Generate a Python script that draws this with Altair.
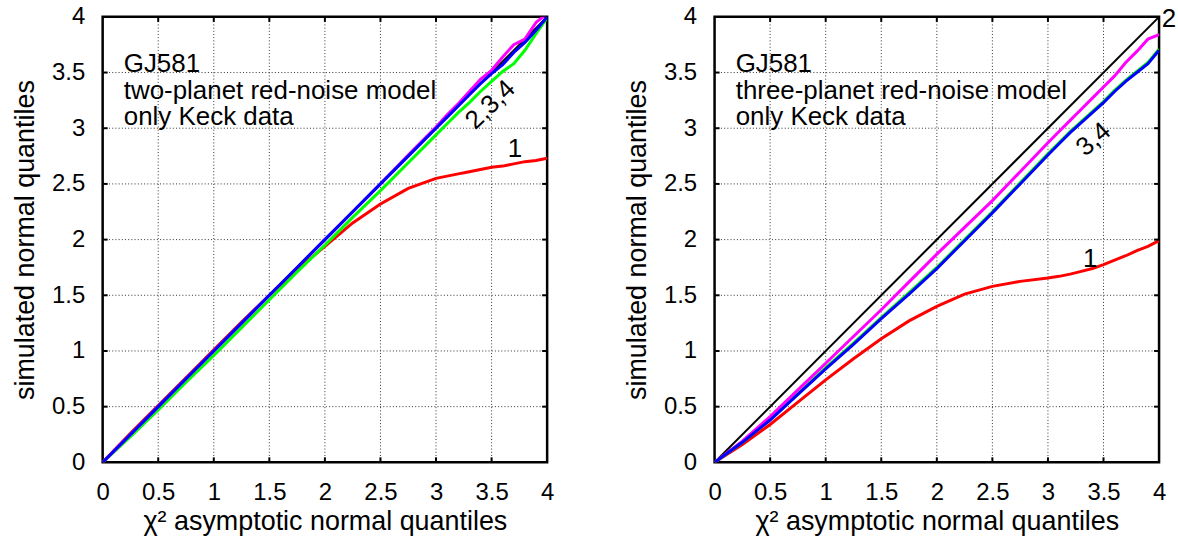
import altair as alt
import pandas as pd

FONT = "Liberation Sans"

# shared chi^2 asymptotic quantile grid (x)
x_q = [0, 0.25, 0.5, 0.75, 1.0, 1.25, 1.5, 1.75, 2.0, 2.25, 2.5, 2.75,
       3.0, 3.1, 3.2, 3.3, 3.4, 3.5, 3.6, 3.7, 3.8, 3.9, 4.0]

# left panel: two-planet red-noise model
left_1 = [0, 0.26, 0.51, 0.76, 1.01, 1.26, 1.50, 1.73, 1.94, 2.15, 2.32, 2.46,
          2.55, 2.57, 2.59, 2.61, 2.63, 2.65, 2.66, 2.68, 2.70, 2.71, 2.73]
left_2 = [0, 0.23, 0.47, 0.72, 0.96, 1.21, 1.46, 1.71, 1.95, 2.20, 2.44, 2.69,
          2.94, 3.04, 3.14, 3.23, 3.33, 3.42, 3.51, 3.58, 3.70, 3.85, 3.99]
left_3 = [0, 0.25, 0.50, 0.75, 1.00, 1.25, 1.50, 1.75, 2.00, 2.25, 2.50, 2.75,
          3.00, 3.10, 3.20, 3.30, 3.40, 3.49, 3.57, 3.68, 3.77, 3.88, 4.00]
left_4 = [0, 0.25, 0.50, 0.75, 1.00, 1.25, 1.50, 1.75, 2.00, 2.25, 2.50, 2.76,
          3.01, 3.12, 3.22, 3.33, 3.44, 3.52, 3.64, 3.75, 3.80, 3.95, 4.03]

# right panel: three-planet red-noise model
right_1 = [0, 0.16, 0.34, 0.54, 0.74, 0.93, 1.11, 1.27, 1.40, 1.51, 1.58, 1.625,
           1.655, 1.67, 1.69, 1.715, 1.74, 1.775, 1.815, 1.855, 1.90, 1.94, 1.99]
right_2 = [0, 0.18, 0.385, 0.615, 0.85, 1.07, 1.30, 1.525, 1.75, 2.00, 2.25, 2.51,
           2.77, 2.87, 2.97, 3.06, 3.15, 3.24, 3.34, 3.43, 3.51, 3.59, 3.71]
right_3 = [0, 0.18, 0.38, 0.61, 0.84, 1.06, 1.29, 1.51, 1.74, 1.99, 2.24, 2.50,
           2.76, 2.86, 2.96, 3.05, 3.14, 3.23, 3.33, 3.42, 3.50, 3.58, 3.70]
right_4 = [0, 0.19, 0.41, 0.65, 0.89, 1.13, 1.37, 1.62, 1.87, 2.11, 2.35, 2.61,
           2.87, 2.97, 3.07, 3.17, 3.27, 3.37, 3.47, 3.59, 3.69, 3.80, 3.84]

diag_x = [0, 4]
diag_y = [0, 4]

tick_values = [0, 0.5, 1, 1.5, 2, 2.5, 3, 3.5, 4]
inner_ticks = [0.5, 1, 1.5, 2, 2.5, 3, 3.5]

# annotations
left_info = ["GJ581", "two-planet red-noise model", "only Keck data"]
right_info = ["GJ581", "three-planet red-noise model", "only Keck data"]
info_x = 0.19
info_y = [3.505, 3.265, 3.03]

left_labels = [("1", 3.71, 2.81, 0), ("2,3,4", 3.49, 3.21, 316)]
right_labels = [("1", 3.38, 1.83, 0), ("3,4", 3.41, 2.90, 319), ("2", 4.09, 3.98, 0)]

COLORS = {"0": "black", "1": "#ff0000", "2": "#00ff00", "3": "#0000ff", "4": "#ff00ff"}
DRAW_ORDER = [("0", 2.0), ("1", 3.0), ("2", 3.0), ("4", 3.0), ("3", 3.0)]

X_TITLE = "χ² asymptotic normal quantiles"
Y_TITLE = "simulated normal quantiles"


def panel(series, info, labels):
    xs = alt.Scale(domain=[0, 4], nice=False, zero=False)
    ys = alt.Scale(domain=[0, 4], nice=False, zero=False)
    xaxis = alt.Axis(values=tick_values, format="~g", grid=False, ticks=False,
                     domain=False,
                     labelFont=FONT, labelFontSize=24, labelPadding=18,
                     labelColor="black", labelFlush=False, labelOverlap=False,
                     title=X_TITLE, titleFont=FONT, titleFontSize=27,
                     titleFontWeight="normal", titleColor="black", titlePadding=4)
    yaxis = alt.Axis(values=tick_values, format="~g", grid=False, ticks=False,
                     domain=False,
                     labelFont=FONT, labelFontSize=24, labelPadding=18,
                     labelColor="black", labelFlush=False, labelOverlap=False,
                     title=Y_TITLE, titleFont=FONT, titleFontSize=27,
                     titleFontWeight="normal", titleColor="black", titlePadding=12)
    X = lambda f: alt.X(f, scale=xs, axis=xaxis)
    Y = lambda f: alt.Y(f, scale=ys, axis=yaxis)

    layers = []

    # dotted grid lines
    grows = []
    for t in inner_ticks:
        grows.append({"x": t, "x2": t, "y": 0, "y2": 4})
        grows.append({"x": 0, "x2": 4, "y": t, "y2": t})
    gdf = pd.DataFrame(grows)
    layers.append(
        alt.Chart(gdf).mark_rule(color="#333", strokeWidth=1, strokeDash=[1, 2.2])
        .encode(x=X("x:Q"), x2="x2:Q", y=Y("y:Q"), y2="y2:Q")
    )

    for key, width in DRAW_ORDER:
        xv, yv = series[key]
        df = pd.DataFrame({"x": xv, "y": yv})
        layers.append(
            alt.Chart(df).mark_line(color=COLORS[key], strokeWidth=width, clip=True)
            .encode(x=X("x:Q"), y=Y("y:Q"))
        )

    # inward ticks on all four sides
    L = 0.045
    rows = []
    for t in inner_ticks:
        rows.append({"x": t, "x2": t, "y": 0, "y2": L})
        rows.append({"x": t, "x2": t, "y": 4 - L, "y2": 4})
        rows.append({"x": 0, "x2": L, "y": t, "y2": t})
        rows.append({"x": 4 - L, "x2": 4, "y": t, "y2": t})
    tdf = pd.DataFrame(rows)
    layers.append(
        alt.Chart(tdf).mark_rule(color="black", strokeWidth=2).encode(
            x=X("x:Q"), x2="x2:Q", y=Y("y:Q"), y2="y2:Q")
    )

    idf = pd.DataFrame({"x": [info_x] * len(info), "y": info_y, "t": info})
    layers.append(
        alt.Chart(idf).mark_text(align="left", baseline="alphabetic", font=FONT,
                                 fontSize=26, color="black")
        .encode(x=X("x:Q"), y=Y("y:Q"), text="t:N")
    )

    for txt, lx, ly, ang in labels:
        ldf = pd.DataFrame({"x": [lx], "y": [ly], "t": [txt]})
        kw = dict(align="center", baseline="middle", font=FONT, fontSize=26,
                  color="black")
        if ang:
            kw["angle"] = ang
        layers.append(
            alt.Chart(ldf).mark_text(**kw).encode(x=X("x:Q"), y=Y("y:Q"), text="t:N")
        )

    return alt.layer(*layers).properties(width=446, height=447)


left = panel({"0": (diag_x, diag_y), "1": (x_q, left_1), "2": (x_q, left_2),
              "3": (x_q, left_3), "4": (x_q, left_4)}, left_info, left_labels)
right = panel({"0": (diag_x, diag_y), "1": (x_q, right_1), "2": (x_q, right_2),
               "3": (x_q, right_3), "4": (x_q, right_4)}, right_info, right_labels)

chart = (
    alt.hconcat(left, right, spacing=67)
    .properties(padding={"left": 10, "top": 2, "right": 0, "bottom": 0},
                background="white")
    .configure_view(stroke="black", strokeWidth=2.5)
)

chart.save("out.html", embed_options={"renderer": "svg", "actions": False})
